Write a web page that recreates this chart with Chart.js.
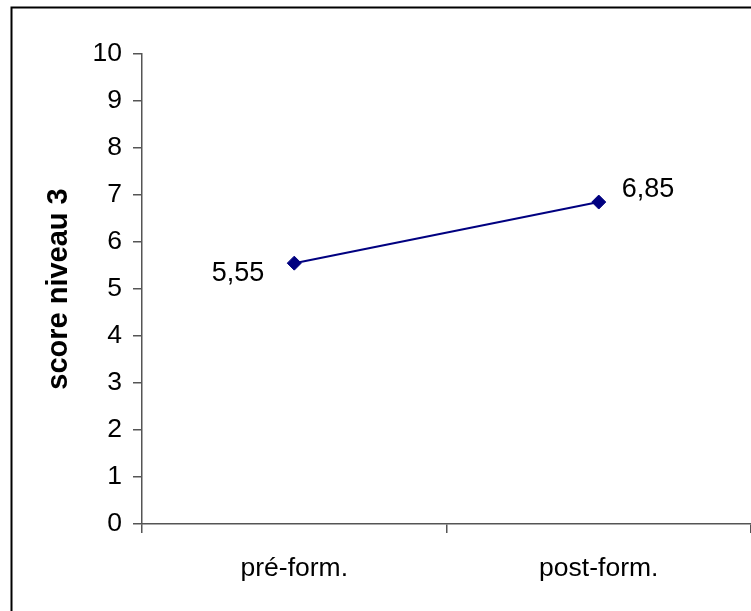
<!DOCTYPE html>
<html>
<head>
<meta charset="utf-8">
<script src="https://cdn.jsdelivr.net/npm/chart.js@4/dist/chart.umd.min.js"></script>
<style>
  html, body { margin: 0; padding: 0; background: #fff; }
  #wrap { width: 751px; height: 611px; position: relative; }
</style>
</head>
<body>
<div id="wrap"><canvas id="c" width="751" height="611"></canvas></div>
<script>
// Mean score before and after training
const categories = ['pré-form.', 'post-form.'];
const scores = [5.55, 6.85];
const yMin = 0;
const yMax = 10;
const yTitle = 'score niveau 3';

const FONT = '"Liberation Sans", Arial, Helvetica, sans-serif';
const AXIS_COLOR = '#555555';
const LINE_COLOR = '#000080';

// Outer frame (top and left edges)
const framePlugin = {
  id: 'frame',
  beforeDraw(chart) {
    const ctx = chart.ctx;
    ctx.save();
    ctx.strokeStyle = '#000';
    ctx.lineWidth = 2;
    ctx.beginPath();
    ctx.moveTo(11.5, 611);
    ctx.lineTo(11.5, 7.5);
    ctx.lineTo(751, 7.5);
    ctx.stroke();
    ctx.restore();
  }
};

// Value labels beside each point, written with a decimal comma
const valueLabels = {
  id: 'valueLabels',
  afterDatasetsDraw(chart) {
    const ctx = chart.ctx;
    const meta = chart.getDatasetMeta(0);
    const vals = chart.data.datasets[0].data;
    ctx.save();
    ctx.font = '27px ' + FONT;
    ctx.fillStyle = '#000';
    ctx.textBaseline = 'alphabetic';
    meta.data.forEach((pt, i) => {
      const txt = vals[i].toFixed(2).replace('.', ',');
      if (i === 0) {
        ctx.textAlign = 'right';
        ctx.fillText(txt, pt.x - 30, pt.y + 18);
      } else {
        ctx.textAlign = 'left';
        ctx.fillText(txt, pt.x + 23, pt.y - 5);
      }
    });
    ctx.restore();
  }
};

new Chart(document.getElementById('c'), {
  type: 'line',
  data: {
    labels: categories,
    datasets: [{
      data: scores,
      borderColor: LINE_COLOR,
      backgroundColor: LINE_COLOR,
      borderWidth: 2,
      pointStyle: 'rectRot',
      pointRadius: 7,
      pointBorderWidth: 1,
      pointBorderColor: LINE_COLOR,
      pointBackgroundColor: LINE_COLOR,
      tension: 0,
      fill: false
    }]
  },
  options: {
    responsive: false,
    animation: false,
    devicePixelRatio: 1,
    layout: { autoPadding: false, padding: { left: 0, top: 54, right: 0, bottom: 0 } },
    plugins: {
      legend: { display: false },
      tooltip: { enabled: false }
    },
    scales: {
      x: {
        type: 'category',
        offset: true,
        grid: {
          offset: true,
          drawOnChartArea: false,
          drawTicks: true,
          tickLength: 9,
          color: AXIS_COLOR,
          lineWidth: 1.5
        },
        border: { display: true, color: AXIS_COLOR, width: 1.5 },
        ticks: {
          color: '#000',
          font: { family: FONT, size: 26.5 },
          padding: 20,
          maxRotation: 0
        },
        afterFit(scale) {
          scale.height = 87;
          scale.paddingLeft = 0;
          scale.paddingRight = 0;
        }
      },
      y: {
        min: yMin,
        max: yMax,
        grid: {
          drawOnChartArea: false,
          drawTicks: true,
          tickLength: 9,
          color: AXIS_COLOR,
          lineWidth: 1.5
        },
        border: { display: true, color: AXIS_COLOR, width: 1.5 },
        ticks: {
          stepSize: 1,
          color: '#000',
          font: { family: FONT, size: 26.5 },
          padding: 11
        },
        title: {
          display: true,
          text: yTitle,
          color: '#000',
          font: { family: FONT, size: 29, weight: 'bold' },
          padding: { top: 42, bottom: 0 }
        },
        afterFit(scale) { scale.width = 142; }
      }
    }
  },
  plugins: [framePlugin, valueLabels]
});
</script>
</body>
</html>
